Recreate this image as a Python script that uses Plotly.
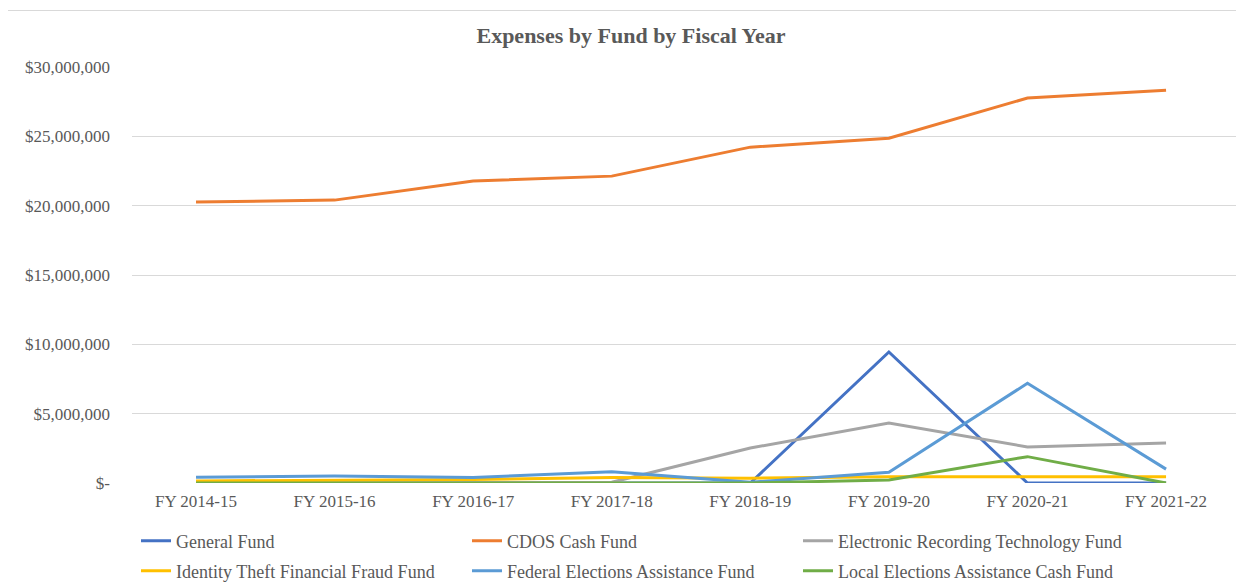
import plotly.graph_objects as go

years = ["FY 2014-15", "FY 2015-16", "FY 2016-17", "FY 2017-18",
         "FY 2018-19", "FY 2019-20", "FY 2020-21", "FY 2021-22"]

general_fund = [0, 0, 0, 0, 0, 9450000, 0, 0]
cdos_cash_fund = [20260000, 20400000, 21770000, 22130000, 24220000, 24870000, 27760000, 28330000]
electronic_recording = [0, 0, 0, 50000, 2520000, 4330000, 2600000, 2880000]
identity_theft = [150000, 200000, 250000, 400000, 350000, 450000, 450000, 450000]
federal_elections = [410000, 500000, 400000, 820000, 50000, 770000, 7190000, 1000000]
local_elections = [0, 0, 0, 0, 0, 220000, 1900000, 0]

series_names = ["General Fund", "CDOS Cash Fund", "Electronic Recording Technology Fund",
                "Identity Theft Financial Fraud Fund", "Federal Elections Assistance Fund",
                "Local Elections Assistance Cash Fund"]
series_values = [general_fund, cdos_cash_fund, electronic_recording,
                 identity_theft, federal_elections, local_elections]
colors = ["#4472C4", "#ED7D31", "#A5A5A5", "#FFC000", "#5B9BD5", "#70AD47"]

y_tickvals = [0, 5000000, 10000000, 15000000, 20000000, 25000000, 30000000]
y_ticktext = ["$-", "$5,000,000", "$10,000,000", "$15,000,000",
              "$20,000,000", "$25,000,000", "$30,000,000"]

FONT = "Liberation Serif"
GRAY = "#595959"

fig = go.Figure()
for i, (name, vals, col) in enumerate(zip(series_names, series_values, colors)):
    fig.add_trace(go.Scatter(
        x=years, y=vals, name=name, mode="lines",
        line=dict(color=col, width=3),
        legend="legend" if i < 3 else "legend2",
    ))

# page has an 8px body margin: design coordinates are shifted by -8
OFF = 8
W, H = 1244, 588
L, R, T = 132 - OFF, 1244 - (1237 - OFF), 67 - OFF
B = H - (483 - OFF)
pw = W - L - R
ph = H - T - B

def px_x(p):
    return (p - OFF - L) / pw

def px_y(p):
    return (H - B - (p - OFF)) / ph

legend_common = dict(orientation="h", xref="container", yref="container",
                     xanchor="left", yanchor="middle",
                     entrywidth=286, entrywidthmode="pixels",
                     font=dict(family=FONT, size=18, color=GRAY),
                     bgcolor="rgba(0,0,0,0)", itemwidth=30, tracegroupgap=0)

fig.update_layout(
    width=W, height=H,
    margin=dict(l=L, r=R, t=T, b=B, autoexpand=False),
    paper_bgcolor="white", plot_bgcolor="white",
    font=dict(family=FONT, color=GRAY, size=17),
    title=dict(text="<b>Expenses by Fund by Fiscal Year</b>",
               x=(631 - OFF) / W, xref="container", xanchor="center",
               y=1 - (35 - OFF) / H, yref="container", yanchor="middle",
               font=dict(family=FONT, size=22, color=GRAY)),
    xaxis=dict(type="category", range=[-0.462, 7.512], showgrid=False,
               showline=False, zeroline=False, ticks="",
               tickfont=dict(family=FONT, size=17, color=GRAY),
               ticklabelstandoff=6),
    yaxis=dict(range=[0, 30000000], tickvals=y_tickvals, ticktext=y_ticktext,
               showgrid=True, gridcolor="#D9D9D9", gridwidth=1,
               zeroline=False, showline=False, ticks="",
               tickfont=dict(family=FONT, size=17, color=GRAY),
               ticklabelstandoff=21),
    legend=dict(x=(136 - OFF) / W, y=1 - (541 - OFF) / H, **legend_common),
    legend2=dict(x=(136 - OFF) / W, y=1 - (571 - OFF) / H, **legend_common),
    showlegend=True,
)

fig.add_shape(type="rect", xref="paper", yref="paper",
              x0=px_x(7.5), x1=px_x(1270), y0=px_y(620), y1=px_y(10.5),
              line=dict(color="#D9D9D9", width=1), fillcolor="rgba(0,0,0,0)",
              layer="below")

fig.write_html("out.html")
